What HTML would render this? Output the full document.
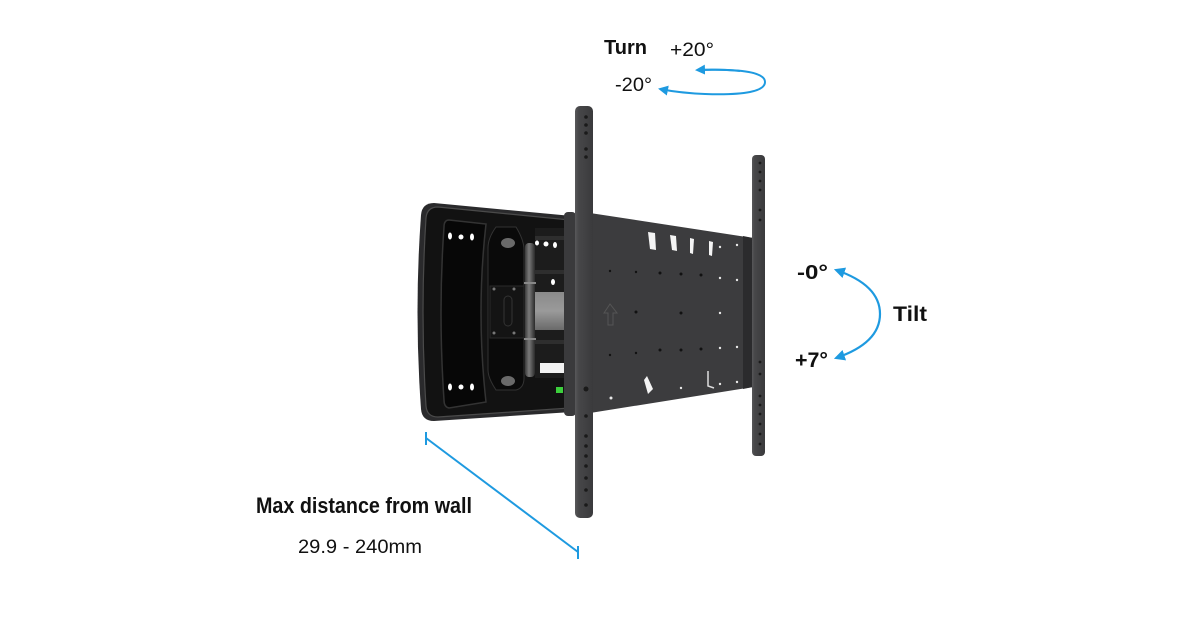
<!DOCTYPE html>
<html><head><meta charset="utf-8"><style>
html,body{margin:0;padding:0;background:#fff;}
svg{display:block;}
text{font-family:"Liberation Sans",sans-serif;fill:#111;}
</style></head><body>
<svg width="1200" height="630" viewBox="0 0 1200 630" xmlns="http://www.w3.org/2000/svg">
<defs>
<marker id="ah" viewBox="0 0 10 10" refX="8" refY="5" markerWidth="5" markerHeight="5" orient="auto-start-reverse">
<path d="M0,0 L10,5 L0,10 z" fill="#1e9ae0"/>
</marker>
<linearGradient id="rail" x1="0" x2="1" y1="0" y2="0">
<stop offset="0" stop-color="#58585a"/><stop offset="0.2" stop-color="#474749"/><stop offset="1" stop-color="#3a3a3c"/>
</linearGradient>
<linearGradient id="arm" x1="0" x2="0" y1="0" y2="1">
<stop offset="0" stop-color="#8a8a8a"/><stop offset="0.5" stop-color="#9a9a9a"/><stop offset="1" stop-color="#6a6a6a"/>
</linearGradient>
<linearGradient id="cyl" x1="0" x2="1" y1="0" y2="0">
<stop offset="0" stop-color="#3a3a3a"/><stop offset="0.4" stop-color="#7a7a7a"/><stop offset="1" stop-color="#2a2a2a"/>
</linearGradient>
</defs>

<!-- Wall plate -->
<path d="M434,203 L572,216 L572,412 L434,421 Q422,421 421,409 Q414,312 421,215 Q422,203 434,203 Z" fill="#2a2a2c"/>
<path d="M438,207 L570,220 L570,408 L438,417 Q427,417 426,406 Q420,312 426,218 Q427,207 438,207 Z" fill="#121212" stroke="#4a4a4a" stroke-width="1.2"/>
<!-- left inner pad -->
<path d="M449,220 L486,224 Q476,312 486,402 L449,408 Q444,407 444,400 Q438,312 444,227 Q444,220 449,220 Z" fill="#070707" stroke="#333" stroke-width="1.5"/>
<ellipse cx="450" cy="236" rx="2" ry="3.5" fill="#fff"/>
<ellipse cx="461" cy="237" rx="2.5" ry="2.5" fill="#fff"/>
<ellipse cx="472" cy="237" rx="2" ry="3.5" fill="#fff"/>
<ellipse cx="450" cy="387" rx="2" ry="3.5" fill="#fff"/>
<ellipse cx="461" cy="387" rx="2.5" ry="2.5" fill="#fff"/>
<ellipse cx="472" cy="387" rx="2" ry="3.5" fill="#fff"/>
<!-- inner channel -->
<rect x="535" y="228" width="32" height="150" fill="#1c1c1c"/>
<rect x="535" y="236" width="32" height="4" fill="#2e2e2e"/>
<rect x="535" y="270" width="32" height="4" fill="#2e2e2e"/>
<rect x="535" y="340" width="32" height="4" fill="#2e2e2e"/>
<rect x="540" y="363" width="27" height="10" fill="#f2f2f2"/>
<ellipse cx="537" cy="243" rx="2" ry="2.5" fill="#fff"/>
<ellipse cx="546" cy="244" rx="2.5" ry="2.5" fill="#fff"/>
<ellipse cx="555" cy="245" rx="2" ry="3" fill="#fff"/>
<ellipse cx="553" cy="282" rx="2" ry="3" fill="#fff"/>
<!-- hinge block -->
<path d="M496,227 L516,227 Q524,240 524,250 L524,378 Q524,388 516,390 L496,390 Q488,378 488,370 L488,248 Q488,238 496,227 Z" fill="#0a0a0a" stroke="#333" stroke-width="1"/>
<ellipse cx="508" cy="243" rx="7" ry="5" fill="#6a6a6a"/>
<ellipse cx="508" cy="381" rx="7" ry="5" fill="#6a6a6a"/>
<rect x="490" y="286" width="34" height="52" fill="#141414" stroke="#2a2a2a"/>
<circle cx="494" cy="289" r="1.5" fill="#777"/><circle cx="514" cy="289" r="1.5" fill="#777"/>
<circle cx="494" cy="333" r="1.5" fill="#777"/><circle cx="514" cy="333" r="1.5" fill="#777"/>
<rect x="504" y="296" width="8" height="30" rx="4" fill="none" stroke="#333"/>
<!-- arm -->
<rect x="533" y="292" width="36" height="38" fill="url(#arm)"/>
<!-- cylinder -->
<rect x="525" y="243" width="10" height="134" rx="4" fill="url(#cyl)"/>
<rect x="524" y="282" width="12" height="2" fill="#888"/>
<rect x="524" y="338" width="12" height="2" fill="#888"/>
<!-- green light -->
<rect x="556" y="387" width="7" height="6" fill="#3ccf3c"/>
<!-- back bracket edge -->
<rect x="564" y="212" width="12" height="204" rx="4" fill="#3a3a3c"/>

<!-- TV plate -->
<polygon points="590,213 753,238 753,387 590,413" fill="#3c3c3e"/>
<polygon points="743,236 753,238 753,387 743,389" fill="#2b2b2d"/>
<g fill="#f4f4f4">
<path d="M648,232 l7,1 l1,17 l-6,-1 z"/>
<path d="M670,235 l6,1 l1,15 l-5,-1 z"/>
<path d="M690,238 l4,1 l-1,15 l-3,-1 z"/>
<path d="M709,241 l4,1 l-1,14 l-3,-1 z"/>
<path d="M644,380 l3,-4 l6,13 l-5,5 z"/>
</g>
<g fill="#111">
<circle cx="660" cy="273" r="1.5"/><circle cx="681" cy="274" r="1.5"/><circle cx="701" cy="275" r="1.5"/>
<circle cx="636" cy="312" r="1.5"/><circle cx="681" cy="313" r="1.5"/>
<circle cx="660" cy="350" r="1.5"/><circle cx="681" cy="350" r="1.5"/><circle cx="701" cy="349" r="1.5"/>
<circle cx="610" cy="271" r="1.2"/><circle cx="610" cy="355" r="1.2"/>
<circle cx="636" cy="272" r="1.2"/><circle cx="636" cy="353" r="1.2"/>
</g>
<g fill="#e8e8e8">
<circle cx="720" cy="278" r="1.2"/><circle cx="737" cy="280" r="1.2"/><circle cx="720" cy="313" r="1.2"/><circle cx="720" cy="348" r="1.2"/><circle cx="737" cy="347" r="1.2"/><circle cx="611" cy="398" r="1.5"/><circle cx="681" cy="388" r="1.2"/><circle cx="720" cy="384" r="1.2"/><circle cx="737" cy="382" r="1.2"/><circle cx="720" cy="247" r="1.2"/><circle cx="737" cy="245" r="1.2"/>
</g>
<path d="M610,304 l-6,9 l4,0 l0,12 l5,0 l0,-12 l4,0 z" fill="none" stroke="#555" stroke-width="1"/>
<path d="M708,371 l0,15 l6,2" fill="none" stroke="#ddd" stroke-width="1.5"/>

<!-- Left rail -->
<rect x="575" y="106" width="18" height="412" rx="5" fill="url(#rail)"/>
<g fill="#1a1a1a">
<circle cx="586" cy="117" r="1.8"/><circle cx="586" cy="125" r="1.8"/><circle cx="586" cy="133" r="1.8"/>
<circle cx="586" cy="149" r="1.8"/><circle cx="586" cy="157" r="1.8"/>
<circle cx="586" cy="389" r="2.5"/>
<circle cx="586" cy="416" r="1.8"/><circle cx="586" cy="436" r="1.8"/><circle cx="586" cy="446" r="1.8"/><circle cx="586" cy="456" r="1.8"/><circle cx="586" cy="466" r="1.8"/><circle cx="586" cy="478" r="1.8"/><circle cx="586" cy="490" r="1.8"/><circle cx="586" cy="505" r="1.8"/>
</g>
<!-- Right rail -->
<rect x="752" y="155" width="13" height="301" rx="4" fill="url(#rail)"/>
<g fill="#1a1a1a">
<circle cx="760" cy="163" r="1.4"/><circle cx="760" cy="172" r="1.4"/><circle cx="760" cy="181" r="1.4"/><circle cx="760" cy="190" r="1.4"/><circle cx="760" cy="210" r="1.4"/><circle cx="760" cy="220" r="1.4"/>
<circle cx="760" cy="362" r="1.4"/><circle cx="760" cy="374" r="1.4"/><circle cx="760" cy="396" r="1.4"/><circle cx="760" cy="405" r="1.4"/><circle cx="760" cy="414" r="1.4"/><circle cx="760" cy="424" r="1.4"/><circle cx="760" cy="434" r="1.4"/><circle cx="760" cy="444" r="1.4"/>
</g>

<!-- Turn -->
<text x="604" y="54" font-size="20" font-weight="bold" textLength="43" lengthAdjust="spacingAndGlyphs">Turn</text>
<text x="670" y="56" font-size="19" textLength="44" lengthAdjust="spacingAndGlyphs">+20°</text>
<text x="615" y="91" font-size="19" textLength="37" lengthAdjust="spacingAndGlyphs">-20°</text>
<path d="M700,70 Q765,68 765,82 Q765,96 705,94 Q680,93 660,89" fill="none" stroke="#1e9ae0" stroke-width="2" marker-end="url(#ah)"/>
<path d="M740,71 Q720,69 697,70" fill="none" stroke="#1e9ae0" stroke-width="2" marker-end="url(#ah)"/>

<!-- Tilt -->
<text x="797" y="279" font-size="20" font-weight="bold" textLength="31" lengthAdjust="spacingAndGlyphs">-0°</text>
<text x="795" y="367" font-size="21" font-weight="bold" textLength="33" lengthAdjust="spacingAndGlyphs">+7°</text>
<text x="893" y="321" font-size="21" font-weight="bold" textLength="34" lengthAdjust="spacingAndGlyphs">Tilt</text>
<path d="M836,270 Q880,285 880,314 Q880,343 836,358" fill="none" stroke="#1e9ae0" stroke-width="2.2" marker-start="url(#ah)" marker-end="url(#ah)"/>

<!-- Distance -->
<path d="M426,438 L578,552" stroke="#1e9ae0" stroke-width="2"/>
<path d="M426,432 L426,445 M578,546 L578,559" stroke="#1e9ae0" stroke-width="2"/>
<text x="256" y="513" font-size="22" font-weight="bold" textLength="216" lengthAdjust="spacingAndGlyphs">Max distance from wall</text>
<text x="298" y="553" font-size="19" textLength="124" lengthAdjust="spacingAndGlyphs">29.9 - 240mm</text>
</svg>
</body></html>
